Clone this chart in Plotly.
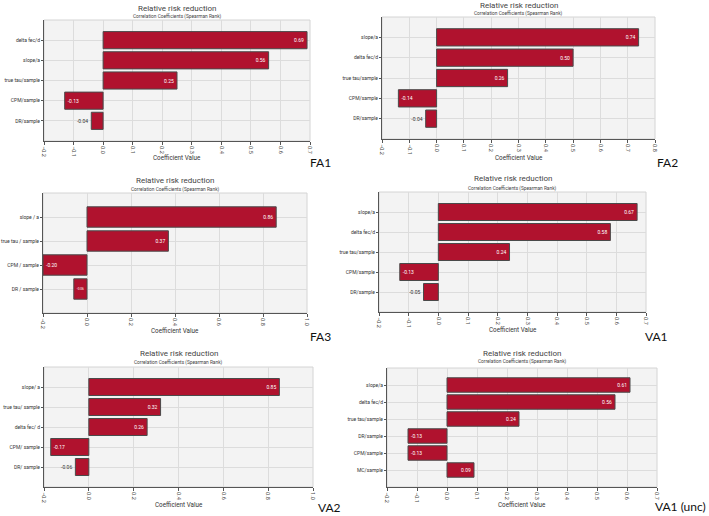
import plotly.graph_objects as go

W, H = 709, 516

# ---------------- data ----------------
fa1_labels = ["delta fec/d", "slope/a", "true tau/sample", "CPM/sample", "DR/sample"]
fa1_values = [0.69, 0.56, 0.25, -0.13, -0.04]

fa2_labels = ["slope/a", "delta fec/d", "true tau/sample", "CPM/sample", "DR/sample"]
fa2_values = [0.74, 0.50, 0.26, -0.14, -0.04]

fa3_labels = ["slope / a", "true tau / sample", "CPM / sample", "DR / sample"]
fa3_values = [0.86, 0.37, -0.20, -0.06]

va1_labels = ["slope/a", "delta fec/d", "true tau/sample", "CPM/sample", "DR/sample"]
va1_values = [0.67, 0.58, 0.24, -0.13, -0.05]

va2_labels = ["slope/ a", "true tau/ sample", "delta fec/ d", "CPM/ sample", "DR/ sample"]
va2_values = [0.85, 0.32, 0.26, -0.17, -0.06]

va1u_labels = ["slope/a", "delta fec/d", "true tau/sample", "DR/sample", "CPM/sample", "MC/sample"]
va1u_values = [0.61, 0.56, 0.24, -0.13, -0.13, 0.09]

title_text = "Relative risk reduction"
subtitle_text = "Correlation Coefficients (Spearman Rank)"
xaxis_text = "Coefficient Value"

# ---------------- layout (pixel boxes) ----------------
panels = [
    dict(tag="FA1", labels=fa1_labels, values=fa1_values, xmax=0.7, dtick=0.1,
         box=(44, 310, 20, 141), ty=8, sy=16, xy=158, tagpos=(333, 162)),
    dict(tag="FA2", labels=fa2_labels, values=fa2_values, xmax=0.8, dtick=0.1,
         box=(382, 655, 17, 139), ty=5, sy=13, xy=158, tagpos=(680, 162)),
    dict(tag="FA3", labels=fa3_labels, values=fa3_values, xmax=1.0, dtick=0.2,
         box=(43, 307, 193, 313), ty=181, sy=189, xy=331, tagpos=(333, 336)),
    dict(tag="VA1", labels=va1_labels, values=va1_values, xmax=0.7, dtick=0.1,
         box=(379, 646, 192, 312), ty=179, sy=188, xy=330, tagpos=(670, 336)),
    dict(tag="VA2", labels=va2_labels, values=va2_values, xmax=1.0, dtick=0.2,
         box=(44, 313, 367, 487), ty=353, sy=362, xy=505, tagpos=(343, 507)),
    dict(tag="VA1 (unc)", labels=va1u_labels, values=va1u_values, xmax=0.7, dtick=0.1,
         box=(387, 657, 368, 487), ty=353, sy=361, xy=505, tagpos=(708, 506)),
]

FONT = "Roboto"
AX = "#555555"
GRID = "#dcdcdc"
BAR = "#b0122e"

fig = go.Figure()
annotations = []
shapes = []
layout_axes = {}


def px(x):
    return x / W


def py(y):
    return 1 - y / H


for i, p in enumerate(panels, start=1):
    xa = "x" if i == 1 else f"x{i}"
    ya = "y" if i == 1 else f"y{i}"
    xkey = "xaxis" if i == 1 else f"xaxis{i}"
    ykey = "yaxis" if i == 1 else f"yaxis{i}"
    l, r, t, b = p["box"]
    n = len(p["labels"])

    fig.add_trace(go.Bar(
        x=p["values"], y=p["labels"], orientation="h",
        xaxis=xa, yaxis=ya, width=0.85,
        marker=dict(color=BAR, line=dict(color="#4a4a4a", width=1)),
        text=[f"{v:.2f}" for v in p["values"]],
        textposition="auto", insidetextanchor="end", textangle=0,
        insidetextfont=dict(color="white", size=5, family=FONT),
        outsidetextfont=dict(color="#333333", size=5, family=FONT),
        cliponaxis=False, showlegend=False, hoverinfo="x+y",
    ))

    layout_axes[xkey] = dict(
        domain=[px(l), px(r)], anchor=ya, range=[-0.2, p["xmax"]],
        tickmode="linear", tick0=-0.2, dtick=p["dtick"], tickformat=".1f",
        tickangle=90, tickfont=dict(size=5.5, color="#444444", family=FONT),
        showgrid=True, gridcolor=GRID, gridwidth=1, zeroline=False,
        showline=True, linecolor=AX, linewidth=1, automargin=False,
        ticks="outside", ticklen=3, tickcolor=AX, fixedrange=True,
    )
    layout_axes[ykey] = dict(
        domain=[py(b), py(t)], anchor=xa, type="category",
        categoryorder="array", categoryarray=p["labels"],
        range=[n, -1], automargin=False,
        tickfont=dict(size=5, color="#333333", family=FONT),
        showgrid=True, gridcolor=GRID, gridwidth=1, zeroline=False,
        showline=True, linecolor=AX, linewidth=1,
        ticks="outside", ticklen=2, tickcolor=AX, fixedrange=True,
    )

    cx = px((l + r) / 2)
    annotations += [
        dict(text=title_text, x=cx, y=py(p["ty"]), xref="paper", yref="paper",
             showarrow=False, xanchor="center", yanchor="middle",
             font=dict(size=8, color="#444444", family=FONT)),
        dict(text=subtitle_text, x=cx, y=py(p["sy"]), xref="paper", yref="paper",
             showarrow=False, xanchor="center", yanchor="middle",
             font=dict(size=4.8, color="#444444", family=FONT)),
        dict(text=xaxis_text, x=cx, y=py(p["xy"]), xref="paper", yref="paper",
             showarrow=False, xanchor="center", yanchor="middle",
             font=dict(size=6.3, color="#333333", family=FONT)),
        dict(text=p["tag"], x=px(p["tagpos"][0]), y=py(p["tagpos"][1]),
             xref="paper", yref="paper", showarrow=False,
             xanchor="right", yanchor="middle",
             font=dict(size=12, color="#111111", family="Lato")),
    ]
    shapes.append(dict(type="rect", xref=f"{xa} domain", yref=f"{ya} domain",
                       x0=0, x1=1, y0=0, y1=1, layer="below",
                       line=dict(color="#d4d4d4", width=1)))

fig.update_layout(
    width=W, height=H, margin=dict(l=0, r=0, t=0, b=0, autoexpand=False),
    paper_bgcolor="white", plot_bgcolor="#f3f3f3",
    font=dict(family=FONT, color="#333333"),
    annotations=annotations, shapes=shapes, bargap=0.15,
    **layout_axes,
)

fig.write_html(
    "out.html",
    config={"displayModeBar": False},
    post_script="document.body.style.margin='0';document.body.style.overflow='hidden';",
)
